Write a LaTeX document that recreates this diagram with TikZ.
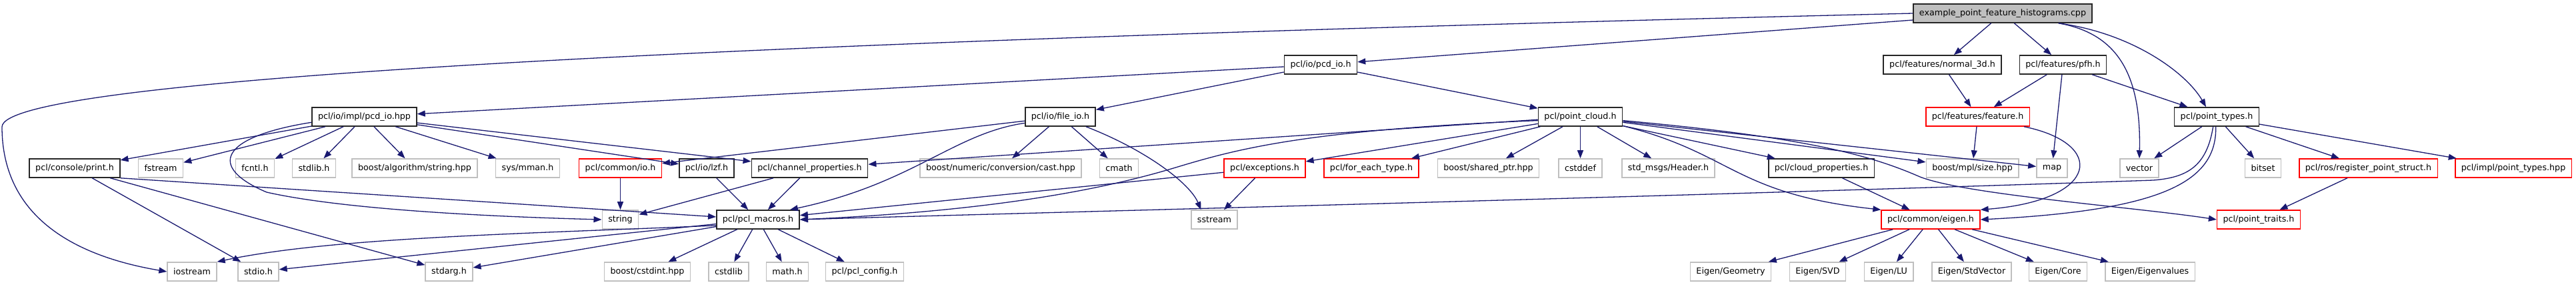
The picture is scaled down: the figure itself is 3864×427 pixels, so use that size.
\documentclass[tikz,border=0pt]{standalone}
\usepackage{fontspec}
\setmainfont{DejaVu Sans}
\usetikzlibrary{arrows.meta}
\definecolor{edge}{HTML}{191970}
\definecolor{lgrey}{HTML}{BFBFBF}
\definecolor{rosso}{HTML}{FF0000}

\begin{document}
\begin{tikzpicture}[x=1pt, y=-1pt,
  box/.style={draw, line width=1.5pt, fill=white, minimum height=28pt,
    inner xsep=9pt, inner ysep=0pt, font=\fontsize{12.7}{15}\selectfont},
  topfile/.style={box, draw=black!85, fill=lgrey},
  full/.style={box, draw=black!85},
  leaf/.style={box, draw=lgrey},
  trunc/.style={box, draw=rosso},
  dep/.style={draw=edge, line width=1.3pt, -{Triangle[length=12pt,width=9pt]}}]

  \fill[white] (0,0) rectangle (3864,427);
  \useasboundingbox (0,0) rectangle (3864,427);

  % riga 0
  \node[topfile] (main) at (3004,20) {example\_point\_feature\_histograms.cpp};

  % riga 1
  \node[full] (pcdio)  at (1981,97)   {pcl/io/pcd\_io.h};
  \node[full] (normal) at (2913.5,97) {pcl/features/normal\_3d.h};
  \node[full] (pfh)    at (3094.5,97) {pcl/features/pfh.h};

  % riga 2
  \node[full]  (pcdimpl) at (546.5,175)  {pcl/io/impl/pcd\_io.hpp};
  \node[full]  (fileio)  at (1590.5,175) {pcl/io/file\_io.h};
  \node[full]  (cloud)   at (2370.5,175) {pcl/point\_cloud.h};
  \node[trunc] (feature) at (2966.5,175) {pcl/features/feature.h};
  \node[full]  (ptypes)  at (3325,175)   {pcl/point\_types.h};

  % riga 3
  \node[full]  (print)     at (112,252)    {pcl/console/print.h};
  \node[leaf]  (fstream)   at (241,252)    {fstream};
  \node[leaf]  (fcntl)     at (382.5,252)  {fcntl.h};
  \node[leaf]  (stdlib)    at (471,252)    {stdlib.h};
  \node[leaf]  (bstring)   at (622,252)    {boost/algorithm/string.hpp};
  \node[leaf]  (mman)      at (791.5,252)  {sys/mman.h};
  \node[trunc] (commonio)  at (930.5,252)  {pcl/common/io.h};
  \node[full]  (lzf)       at (1060,252)   {pcl/io/lzf.h};
  \node[full]  (chanprop)  at (1214.5,252) {pcl/channel\_properties.h};
  \node[leaf]  (cast)      at (1501,252)   {boost/numeric/conversion/cast.hpp};
  \node[leaf]  (cmath)     at (1678.5,252) {cmath};
  \node[trunc] (except)    at (1897,252)   {pcl/exceptions.h};
  \node[trunc] (foreach)   at (2057,252)   {pcl/for\_each\_type.h};
  \node[leaf]  (sharedptr) at (2232.5,252) {boost/shared\_ptr.hpp};
  \node[leaf]  (cstddef)   at (2370.5,252) {cstddef};
  \node[leaf]  (header)    at (2502.5,252) {std\_msgs/Header.h};
  \node[full]  (cloudprop) at (2732,252)   {pcl/cloud\_properties.h};
  \node[leaf]  (mplsize)   at (2958.5,252) {boost/mpl/size.hpp};
  \node[leaf]  (map)       at (3078,252)   {map};
  \node[leaf]  (vector)    at (3209,252)   {vector};
  \node[leaf]  (bitset)    at (3394.5,252) {bitset};
  \node[trunc] (register)  at (3552.5,252) {pcl/ros/register\_point\_struct.h};
  \node[trunc] (ptimpl)    at (3770,252)   {pcl/impl/point\_types.hpp};

  % riga 4
  \node[leaf]  (string)  at (930.5,329)  {string};
  \node[full]  (macros)  at (1137,329)   {pcl/pcl\_macros.h};
  \node[leaf]  (sstream) at (1821.5,329) {sstream};
  \node[trunc] (eigen)   at (2896,329)   {pcl/common/eigen.h};
  \node[trunc] (ptraits) at (3388,329)   {pcl/point\_traits.h};

  % riga 5
  \node[leaf] (iostream) at (288,407)    {iostream};
  \node[leaf] (stdio)    at (387.5,407)  {stdio.h};
  \node[leaf] (stdarg)   at (673.5,407)  {stdarg.h};
  \node[leaf] (cstdint)  at (971,407)    {boost/cstdint.hpp};
  \node[leaf] (cstdlib)  at (1093,407)   {cstdlib};
  \node[leaf] (math)     at (1181,407)   {math.h};
  \node[leaf] (config)   at (1297,407)   {pcl/pcl\_config.h};
  \node[leaf] (egeom)    at (2596,407)   {Eigen/Geometry};
  \node[leaf] (esvd)     at (2726.5,407) {Eigen/SVD};
  \node[leaf] (elu)      at (2833,407)   {Eigen/LU};
  \node[leaf] (estd)     at (2957.5,407) {Eigen/StdVector};
  \node[leaf] (ecore)    at (3087,407)   {Eigen/Core};
  \node[leaf] (evals)    at (3225,407)   {Eigen/Eigenvalues};

  % dal file principale
  \draw[dep] (main.west) .. controls (1000,65) and (5,120) .. (3,190)
    .. controls (3,330) and (120,385) .. (iostream.west);
  \draw[dep] (main) -- (pcdio);
  \draw[dep] (main) -- (normal);
  \draw[dep] (main) -- (pfh);
  \draw[dep] (main.-10) .. controls (3175,50) and (3212,110) .. (vector.north);
  \draw[dep] (main.-10) .. controls (3200,50) and (3280,110) .. ([xshift=-16]ptypes.north);

  % pcd_io.h
  \draw[dep] (pcdio) -- (pcdimpl);
  \draw[dep] (pcdio) -- (fileio);
  \draw[dep] (pcdio) -- (cloud);

  % pcd_io.hpp
  \draw[dep] (pcdimpl) -- (print);
  \draw[dep] (pcdimpl) -- (fstream);
  \draw[dep] (pcdimpl) -- (fcntl);
  \draw[dep] (pcdimpl) -- (stdlib);
  \draw[dep] (pcdimpl) -- (bstring);
  \draw[dep] (pcdimpl) -- (mman);
  \draw[dep] (pcdimpl) -- (lzf);
  \draw[dep] (pcdimpl) -- (chanprop);
  \draw[dep] (pcdimpl.186) .. controls (330,205) and (310,250) .. (400,288)
    .. controls (520,315) and (750,325) .. (string.west);

  % file_io.h
  \draw[dep] (fileio) -- (commonio);
  \draw[dep] (fileio) -- (cast);
  \draw[dep] (fileio) -- (cmath);
  \draw[dep] (fileio.190) .. controls (1430,200) and (1370,275) .. ([xshift=-15]macros.north east);
  \draw[dep] (fileio.-21) .. controls (1720,225) and (1785,275) .. ([xshift=-20]sstream.north);

  % point_cloud.h
  \draw[dep] (cloud) -- (chanprop);
  \draw[dep] (cloud.185) .. controls (1950,195) and (1850,225) .. (1760,252)
    .. controls (1600,300) and (1400,320) .. (macros.east);
  \draw[dep] (cloud) -- (except);
  \draw[dep] (cloud) -- (foreach);
  \draw[dep] (cloud) -- (sharedptr);
  \draw[dep] (cloud) -- (cstddef);
  \draw[dep] (cloud) -- (header);
  \draw[dep] (cloud) -- (cloudprop);
  \draw[dep] (cloud) -- (mplsize);
  \draw[dep] (cloud) -- (map);
  \draw[dep] (cloud.-12) .. controls (2600,230) and (2600,290) .. (eigen.north west);
  \draw[dep] (cloud.-5) .. controls (2700,205) and (2800,230) .. (2880,265)
    .. controls (2950,292) and (3200,310) .. (ptraits.west);

  % exceptions, channel_properties, io, lzf, print
  \draw[dep] (except) -- (sstream);
  \draw[dep] (except) -- (macros);
  \draw[dep] (chanprop) -- (string);
  \draw[dep] (chanprop) -- (macros);
  \draw[dep] (commonio) -- (string);
  \draw[dep] (lzf) -- (macros);
  \draw[dep] (print.south east) -- (macros);
  \draw[dep] (print) -- (stdio);
  \draw[dep] (print) -- (stdarg);

  % pcl_macros.h
  \draw[dep] (macros.188) .. controls (800,350) and (500,355) .. (iostream.north east);
  \draw[dep] (macros) -- (stdio);
  \draw[dep] (macros) -- (stdarg);
  \draw[dep] (macros) -- (cstdint);
  \draw[dep] (macros) -- (cstdlib);
  \draw[dep] (macros) -- (math);
  \draw[dep] (macros) -- (config);

  % features
  \draw[dep] (normal) -- (feature);
  \draw[dep] (pfh) -- (feature);
  \draw[dep] (pfh) -- (map);
  \draw[dep] (pfh) -- (ptypes);
  \draw[dep] (feature) -- (mplsize);
  \draw[dep] (feature.-12) .. controls (3160,215) and (3150,300) .. (eigen.north east);

  % point_types.h
  \draw[dep] (ptypes) -- (vector);
  \draw[dep] (ptypes) -- (bitset);
  \draw[dep] (ptypes) -- (register);
  \draw[dep] (ptypes) -- (ptimpl);
  \draw[dep] (ptypes.-95) .. controls (3325,270) and (3250,315) .. (eigen.east);
  \draw[dep] (ptypes.-110) .. controls (3310,250) and (3280,266) .. (3230,270)
    .. controls (2500,295) and (1500,320) .. (macros.east);

  % register_point_struct, cloud_properties
  \draw[dep] (register) -- (ptraits);
  \draw[dep] (cloudprop) -- (eigen);

  % eigen.h
  \draw[dep] (eigen) -- (egeom);
  \draw[dep] (eigen) -- (esvd);
  \draw[dep] (eigen) -- (elu);
  \draw[dep] (eigen) -- (estd);
  \draw[dep] (eigen) -- (ecore);
  \draw[dep] (eigen) -- (evals);
\end{tikzpicture}
\end{document}
